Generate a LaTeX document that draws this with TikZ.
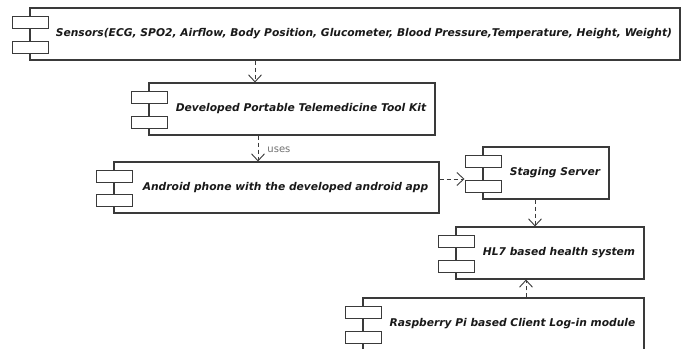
\documentclass[tikz,border=0pt]{standalone}
\usepackage{fontspec}
\setmainfont{DejaVu Sans}
\usetikzlibrary{arrows.meta}
\definecolor{edge}{HTML}{3A3A3A}
\definecolor{usesgray}{HTML}{707070}
\tikzset{
  box/.style={draw=edge, fill=white, line width=1.1pt, inner sep=0pt, rectangle},
  tab/.style={draw=edge, fill=white, line width=1pt, inner sep=0pt, minimum width=36pt, minimum height=12pt, rectangle},
  lbl/.style={font=\fontsize{10.7}{12}\selectfont\bfseries\itshape, text=black!90, inner sep=0pt},
  dep/.style={draw=edge, line width=0.9pt, dash pattern=on 4pt off 3pt, -{Straight Barb[length=7pt,width=13pt,line width=0.9pt]}},
  uselbl/.style={font=\fontsize{10}{12}\selectfont, text=usesgray, inner sep=0pt}
}
\newcommand\comp[6]{%
  \node[box, minimum width={#4-#2}, minimum height={#5-#3}] (#1) at ({(#2+#4)/2},{(#3+#5)/2}) {};
  \node[tab] (#1-a) at (#2,{#3+14}) {};
  \node[tab] (#1-b) at (#2,{#5-13}) {};
  \node[lbl] (#1-l) at ({(#2+18+#4)/2},{(#3+#5)/2}) {#6};
}
\begin{document}
\begin{tikzpicture}[x=1pt,y=-1pt]
\clip (0,0) rectangle (685,348);
\fill[white] (0,0) rectangle (685,348);
\comp{sens}{30}{8}{680}{60}{Sensors(ECG, SPO2, Airflow, Body Position, Glucometer, Blood Pressure,Temperature, Height, Weight)}
\comp{kit}{149}{83}{435}{135}{Developed Portable Telemedicine Tool Kit}
\comp{and}{114}{162}{439}{213}{Android phone with the developed android app}
\comp{stg}{483}{147}{609}{199}{Staging Server}
\comp{hl}{456}{227}{644}{279}{HL7 based health system}
\comp{rpi}{363}{298}{644}{350}{Raspberry Pi based Client Log-in module}
\coordinate (x1) at (255,0);
\coordinate (x2) at (258,0);
\coordinate (y3) at (0,179);
\coordinate (x4) at (535,0);
\coordinate (x5) at (526,0);
\draw[dep] (x1 |- sens.south) -- (x1 |- kit.north);
\draw[dep] (x2 |- kit.south) -- node[uselbl, right, xshift=9pt, yshift=-1pt] (uses) {uses} (x2 |- and.north);
\draw[dep] (y3 -| and.east) -- (y3 -| stg-b.west);
\draw[dep] (x4 |- stg.south) -- (x4 |- hl.north);
\draw[dep] (x5 |- rpi.north) -- (x5 |- hl.south);
\end{tikzpicture}
\end{document}
